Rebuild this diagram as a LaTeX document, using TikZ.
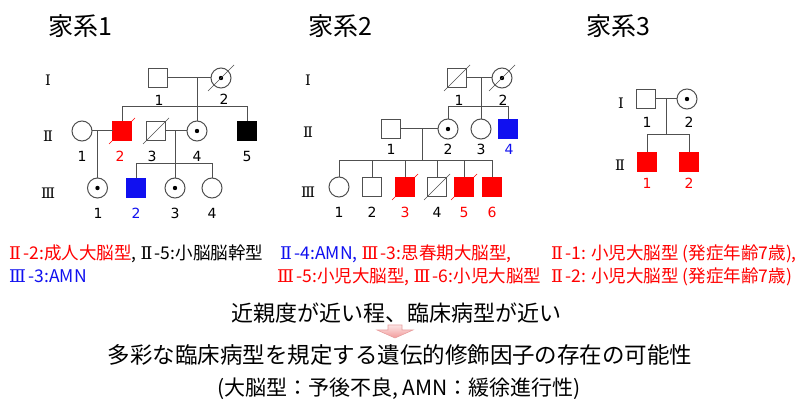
\documentclass[tikz,border=0pt]{standalone}
\usepackage{fontspec}
\setmainfont{Noto Sans CJK JP}
\newfontfamily\numfont{DejaVu Sans}
\newfontfamily\romfont{DejaVu Serif}
\newcommand\rmnum[1]{{\romfont #1}\kern2.5pt}
\usetikzlibrary{calc}
\definecolor{pline}{HTML}{505050}
\definecolor{pred}{HTML}{FF0000}
\definecolor{pblue}{HTML}{1010F0}
\definecolor{arrowtop}{HTML}{FCE4E4}
\definecolor{arrowbot}{HTML}{F29A9A}
\definecolor{arrowedge}{HTML}{E8A0A0}
\newcommand\deadmark[2]{\draw[#2, line width=0.7pt] ($(#1.center)+(-13,13)$) -- ($(#1.center)+(13,-13)$);}
\tikzset{
 sym/.style={draw=pline, line width=1pt, inner sep=0pt, outer sep=0pt, fill=white},
 male/.style={sym, rectangle, minimum size=19pt},
 female/.style={sym, circle, minimum size=20pt},
 carrier/.style={female, path picture={\fill[black] (path picture bounding box.center) circle (2.2pt);}},
 affr/.style={fill=pred, draw=pred},
 affb/.style={fill=pblue, draw=pblue},
 affk/.style={fill=black, draw=black},
 rel/.style={draw=pline, line width=1pt},
 num/.style={font=\numfont\fontsize{14}{14}\selectfont, inner sep=0pt},
 gen/.style={font=\romfont\fontsize{14.5}{14.5}\selectfont, inner sep=0pt},
 ttl/.style={font=\fontsize{25}{25}\selectfont, anchor=base west, inner sep=0pt},
 txt/.style={font=\fontsize{17.5}{17.5}\selectfont, anchor=base west, inner sep=0pt},
 big/.style={font=\fontsize{22}{22}\selectfont, anchor=base, inner sep=0pt},
}
\begin{document}
\begin{tikzpicture}[x=1pt,y=-1pt]
\fill[white] (0,0) rectangle (798,403);
\useasboundingbox (0,0) rectangle (798,403);

% titles
\node[ttl] (T1) at (48,35.5) {家系1};
\node[ttl] (T2) at (308,35.5) {家系2};
\node[ttl] (T3) at (586,35.5) {家系3};

% ===== family 1 =====
\node[gen] (f1g1) at (48,80) {Ⅰ};
\node[gen] (f1g2) at (48,136) {Ⅱ};
\node[gen] (f1g3) at (48,193) {Ⅲ};

\node[male] (f1I1) at (158,78) {};
\node[carrier] (f1I2) at (221,78) {};
\coordinate (f1m1) at (197,78);
\coordinate (f1s1L) at (122,107);
\coordinate (f1s1R) at (247,107);

\node[female] (f1II1) at (82,131) {};
\node[male,affr] (f1II2) at (122,131) {};
\node[male] (f1II3) at (156,131) {};
\node[carrier] (f1II4) at (197,131) {};
\node[male,affk] (f1II5) at (247,131) {};
\coordinate (f1m2) at (97.5,131);
\coordinate (f1m3) at (175,131);
\coordinate (f1s2L) at (136,164);
\coordinate (f1s2R) at (212,164);

\node[carrier] (f1III1) at (97.5,188) {};
\node[male,affb] (f1III2) at (136,188) {};
\node[carrier] (f1III3) at (175,188) {};
\node[female] (f1III4) at (212,188) {};

\draw[rel] (f1I1) -- (f1I2);
\draw[rel] (f1m1) -- (f1II4);
\draw[rel] (f1II2) -- (f1s1L) -- (f1s1R) -- (f1II5);
\draw[rel] (f1II1) -- (f1II2);
\draw[rel] (f1m2) -- (f1III1);
\draw[rel] (f1II3) -- (f1II4);
\draw[rel] (f1m3) -- (f1III3);
\draw[rel] (f1III2) -- (f1s2L) -- (f1s2R) -- (f1III4);

\deadmark{f1I2}{pline}
\deadmark{f1II2}{pred}
\deadmark{f1II3}{pline}

\node[num] (f1I1n) at (159,100) {1};
\node[num] (f1I2n) at (224,99) {2};
\node[num] (f1II1n) at (82,156) {1};
\node[num,text=pred] (f1II2n) at (120,156) {2};
\node[num] (f1II3n) at (152,156) {3};
\node[num] (f1II4n) at (197,156) {4};
\node[num] (f1II5n) at (247,156) {5};
\node[num] (f1III1n) at (98,213) {1};
\node[num,text=pblue] (f1III2n) at (136,213) {2};
\node[num] (f1III3n) at (175,213) {3};
\node[num] (f1III4n) at (212,213) {4};

% ===== family 2 =====
\node[gen] (f2g1) at (308,80) {Ⅰ};
\node[gen] (f2g2) at (308,132) {Ⅱ};
\node[gen] (f2g3) at (308,192) {Ⅲ};

\node[male] (f2I1) at (457,78) {};
\node[carrier] (f2I2) at (502,78) {};
\coordinate (f2m1) at (481,78);
\coordinate (f2s1L) at (448,107);
\coordinate (f2s1R) at (508,107);

\node[male] (f2II1) at (391,129) {};
\node[carrier] (f2II2) at (448,129) {};
\node[female] (f2II3) at (481,129) {};
\node[male,affb] (f2II4) at (508,129) {};
\coordinate (f2m2) at (422,129);
\coordinate (f2s2M) at (422,161);
\coordinate (f2s2L) at (339,161);
\coordinate (f2s2R) at (492,161);
\coordinate (f2d2) at (372,161);
\coordinate (f2d3) at (405,161);
\coordinate (f2d4) at (437,161);
\coordinate (f2d5) at (464,161);

\node[female] (f2III1) at (339,187) {};
\node[male] (f2III2) at (372,187) {};
\node[male,affr] (f2III3) at (405,187) {};
\node[male] (f2III4) at (437,187) {};
\node[male,affr] (f2III5) at (464,187) {};
\node[male,affr] (f2III6) at (492,187) {};

\draw[rel] (f2I1) -- (f2I2);
\draw[rel] (f2m1) -- (f2II3);
\draw[rel] (f2II2) -- (f2s1L) -- (f2s1R) -- (f2II4);
\draw[rel] (f2II1) -- (f2II2);
\draw[rel] (f2m2) -- (f2s2M);
\draw[rel] (f2III1) -- (f2s2L) -- (f2s2R) -- (f2III6);
\draw[rel] (f2d2) -- (f2III2);
\draw[rel] (f2d3) -- (f2III3);
\draw[rel] (f2d4) -- (f2III4);
\draw[rel] (f2d5) -- (f2III5);

\deadmark{f2I1}{pline}
\deadmark{f2I2}{pline}
\deadmark{f2III3}{pred}
\deadmark{f2III4}{pline}
\deadmark{f2III5}{pred}

\node[num] (f2I1n) at (459,100) {1};
\node[num] (f2I2n) at (503,100) {2};
\node[num] (f2II1n) at (391,149) {1};
\node[num] (f2II2n) at (448,149) {2};
\node[num] (f2II3n) at (481,149) {3};
\node[num,text=pblue] (f2II4n) at (509,149) {4};
\node[num] (f2III1n) at (339,212) {1};
\node[num] (f2III2n) at (372,212) {2};
\node[num,text=pred] (f2III3n) at (405,212) {3};
\node[num] (f2III4n) at (437,212) {4};
\node[num,text=pred] (f2III5n) at (464,212) {5};
\node[num,text=pred] (f2III6n) at (492,212) {6};

% ===== family 3 =====
\node[gen] (f3g1) at (621,103) {Ⅰ};
\node[gen] (f3g2) at (620,165) {Ⅱ};

\node[male] (f3I1) at (646,99) {};
\node[carrier] (f3I2) at (687,99) {};
\coordinate (f3m1) at (666,99);
\coordinate (f3s1M) at (666,135);
\coordinate (f3s1L) at (647,135);
\coordinate (f3s1R) at (689,135);
\node[male,affr] (f3II1) at (647,162) {};
\node[male,affr] (f3II2) at (689,162) {};

\draw[rel] (f3I1) -- (f3I2);
\draw[rel] (f3m1) -- (f3s1M);
\draw[rel] (f3II1) -- (f3s1L) -- (f3s1R) -- (f3II2);

\node[num] (f3I1n) at (647,122) {1};
\node[num] (f3I2n) at (689,122) {2};
\node[num,text=pred] (f3II1n) at (647,183) {1};
\node[num,text=pred] (f3II2n) at (689,183) {2};

% ===== phenotype text =====
\node[txt] (t1a) at (9,259.5) {\textcolor{pred}{\rmnum{Ⅱ}-2:成人大脳型}, \rmnum{Ⅱ}-5:小脳脳幹型};
\node[txt] (t2a) at (9,282.5) {\textcolor{pblue}{\rmnum{Ⅲ}-3:AMN}};
\node[txt] (t1b) at (280,259.5) {\textcolor{pblue}{\rmnum{Ⅱ}-4:AMN,} \textcolor{pred}{\rmnum{Ⅲ}-3:思春期大脳型,}};
\node[txt] (t2b) at (277,282.5) {\textcolor{pred}{\rmnum{Ⅲ}-5:小児大脳型, \rmnum{Ⅲ}-6:小児大脳型}};
\node[txt] (t1c) at (551,259.5) {\textcolor{pred}{\rmnum{Ⅱ}-1: 小児大脳型 (発症年齢7歳),}};
\node[txt] (t2c) at (551,282.5) {\textcolor{pred}{\rmnum{Ⅱ}-2: 小児大脳型 (発症年齢7歳)}};

% ===== conclusion =====
\node[big] (c1) at (396,321.5) {近親度が近い程、臨床病型が近い};
\shade[top color=arrowtop, bottom color=arrowbot, draw=arrowedge, line width=0.6pt]
  (388,325) -- (402,325) -- (402,330) -- (413,330) -- (395,338) -- (377,330) -- (388,330) -- cycle;
\node[big, font=\fontsize{22.5}{22.5}\selectfont] (c2) at (400,363.5) {多彩な臨床病型を規定する遺伝的修飾因子の存在の可能性};
\node[big, font=\fontsize{21}{21}\selectfont] (c3) at (399,395.5) {(大脳型：予後不良, AMN：緩徐進行性)};
\end{tikzpicture}
\end{document}
